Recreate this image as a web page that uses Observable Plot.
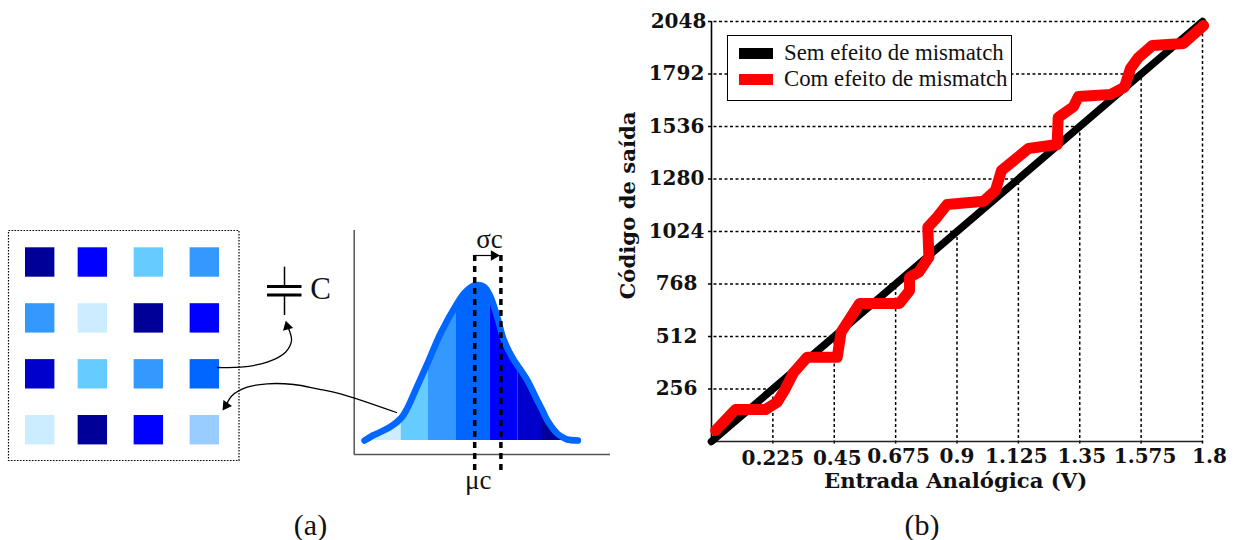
<!DOCTYPE html>
<html>
<head>
<meta charset="utf-8">
<script src="https://cdn.jsdelivr.net/npm/d3@7"></script>
<script src="https://cdn.jsdelivr.net/npm/@observablehq/plot@0.6"></script>
<style>
  html,body{margin:0;padding:0;background:#fff;}
  #page{position:relative;width:1237px;height:540px;overflow:hidden;}
  #page svg{position:absolute;overflow:visible;background:transparent;}
  #legend{position:absolute;left:727px;top:35px;width:283px;height:64px;border:1.5px solid #000;background:#fff;
    font:22.8px "Liberation Serif",serif;color:#111;}
  #legend .row{position:absolute;left:11px;height:26px;display:flex;align-items:center;white-space:nowrap;}
  #legend .sw{display:inline-block;width:34px;height:11px;margin-right:11px;}
</style>
</head>
<body>
<div id="page"><div id="legend"></div></div>
<script>
// ---------- panel (b): transfer curve ----------
const idealX = [0, 1.8];
const idealY = [0, 2048];
const mismatchX = [0.015,0.088,0.198,0.241,0.271,0.301,0.351,0.461,0.475,0.543,0.689,0.726,0.726,0.760,0.797,0.793,0.827,0.864,0.998,1.041,1.063,1.162,1.267,1.271,1.327,1.345,1.463,1.514,1.536,1.565,1.616,1.730,1.804];
const mismatchY = [54,156,156,192,258,336,411,411,533,673,673,736,801,826,899,1045,1094,1156,1172,1224,1321,1429,1448,1580,1633,1682,1692,1728,1819,1872,1931,1941,2028];
const xTicks = [0.225,0.45,0.675,0.9,1.125,1.35,1.575,1.8];
const xTickLabels = ["0.225","0.45","0.675","0.9","1.125","1.35","1.575","1.8"];
const xLabelNudge = [0,3,3,0,-2,2,4,7];
const xLabelDrop = [17,17,15,15,15,15,15,15];
const yTicks = [256,512,768,1024,1280,1536,1792,2048];
const yLabelNudge = [-35,-35,-35,-35,-35,-35,-35,-33];
const legendNames = ["Sem efeito de mismatch","Com efeito de mismatch"];
const legendColors = ["#000000","#ff0000"];

// ---------- panel (a): capacitor matrix ----------
const colPos = [0,0.94,1.94,2.94];
const rowPos = [0,1,2,3];
const matrixColors = [
  ["#000099","#0000ff","#66ccff","#3399ff"],
  ["#3399ff","#ccecff","#000099","#0000ff"],
  ["#0000cc","#66ccff","#3399ff","#0066ff"],
  ["#ccecff","#000099","#0000ff","#99ccff"]
];

// ---------- panel (a): distribution ----------
const curveX = [10.3,19.7,23,36.3,47,53,61.3,74.3,86.3,102.3,111.3,121.3,129.7,135.7,143,149.7,159.7,163.7,173,183,188.3,193,203,209.7,213,223.7];
const curveY = [0,5.5,7,13.7,22.5,32,50.3,79.5,107,136,148.7,155.3,153.7,145,123.7,100.3,80.3,74.5,60.3,40.3,30,20.3,7,2.5,1,0];
const bandEdges = [19.7,47,74.3,102.3,135.7,163.7,188.3,209.7];
const bandColors = ["#ccecff","#66ccff","#3399ff","#0066ff","#0000ff","#0000cc","#000099"];
const mu = 120.5;
const sigma = 26.2;

// annotation sketch paths (layout units of panel a)
const arrow1X = [217,240,266.7,285,291,288], arrow1Y = [367,366.7,361.7,351.7,340,328];
const arrow2X = [396,340,316.7,293.3,266.7,246.7,231.7,226], arrow2Y = [412,393.3,388.3,384,383.3,386.7,395,404];

const page = document.getElementById("page");
const serif = '"Liberation Serif",serif';
const bold = '"DejaVu Serif",serif';
function place(svg,left,top){svg.style.left=left+"px";svg.style.top=top+"px";page.insertBefore(svg,document.getElementById("legend"));}

// ---- distribution plot
const density = curveX.map((x,i)=>({x,y:curveY[i]}));
const bands = bandColors.flatMap((c,i)=>density.filter(p=>p.x>=bandEdges[i]&&p.x<=bandEdges[i+1]).map(p=>({...p,c})));
const distPlot = Plot.plot({
  width:270,height:285,marginLeft:13.7,marginRight:0,marginTop:0,marginBottom:0,
  style:{fontFamily:serif,background:"transparent"},
  x:{domain:[0,256.3],axis:null},
  y:{domain:[-14,220],range:[234,0],axis:null},
  marks:[
    Plot.areaY(bands,{x:"x",y1:0,y2:"y",fill:d=>d.c,z:"c",curve:"catmull-rom"}),
    Plot.line(density,{x:"x",y:"y",stroke:"#0066ff",strokeWidth:6.5,strokeLinecap:"round",strokeLinejoin:"round",curve:"catmull-rom"}),
    Plot.ruleX([0],{y1:-14,y2:210,stroke:"#555",strokeWidth:1.5}),
    Plot.ruleY([-14],{x1:0,x2:256.3,stroke:"#555",strokeWidth:1.5}),
    Plot.ruleX([mu,mu+sigma],{y1:185,y2:-30,stroke:"#000",strokeWidth:3.5,strokeDasharray:"6,5"}),
    Plot.ruleY([185],{x1:mu,x2:mu+sigma-6,stroke:"#000",strokeWidth:1.2}),
    Plot.dot([0],{x:mu+sigma-7,y:185,symbol:"triangle2",r:5,fill:"#000",stroke:"none",rotate:90}),
    Plot.text(["σc"],{x:135.3,y:201,fontSize:27,fill:"#111"}),
    Plot.text(["μc"],{x:124,y:-40,fontSize:27,fill:"#111"})
  ]
});
place(distPlot,340,220);

// ---- layout plot: matrix, capacitor, arrows, caption
const cells = rowPos.flatMap((r,i)=>colPos.map((c,j)=>({c,r,color:matrixColors[i][j]})));
const colStep = 56, colStart = 39.7, rowStart = 262, half = 14.7;
const cellPlot = Plot.plot({
  width:610,height:540,margin:0,
  style:{fontFamily:serif,background:"transparent"},
  x:{domain:[0,610],axis:null},
  y:{domain:[0,540],range:[0,540],axis:null},
  marks:[
    Plot.rect(cells,{x1:d=>colStart+d.c*colStep-half,x2:d=>colStart+d.c*colStep+half,y1:d=>rowStart+d.r*55.9-half,y2:d=>rowStart+d.r*55.9+half,fill:"color"}),
    Plot.rect([0],{x1:8.5,x2:239,y1:230.5,y2:460.5,fill:"none",stroke:"#000",strokeWidth:1.2,strokeDasharray:"1.6,1.4"}),
    Plot.ruleX([284],{y1:266.7,y2:285,stroke:"#000",strokeWidth:1.5}),
    Plot.ruleX([284],{y1:295,y2:315,stroke:"#000",strokeWidth:1.5}),
    Plot.ruleY([286,294.5],{x1:267,x2:301.5,stroke:"#000",strokeWidth:3}),
    Plot.text(["C"],{x:320,y:289,fontSize:31,fill:"#111"}),
    Plot.line(arrow1X.map((x,i)=>({x,y:arrow1Y[i]})),{x:"x",y:"y",stroke:"#000",strokeWidth:1.3,curve:"catmull-rom"}),
    Plot.dot([0],{x:286.8,y:326,symbol:"triangle2",r:5,fill:"#000",stroke:"none",rotate:-15}),
    Plot.line(arrow2X.map((x,i)=>({x,y:arrow2Y[i]})),{x:"x",y:"y",stroke:"#000",strokeWidth:1.3,curve:"catmull-rom"}),
    Plot.dot([0],{x:225.5,y:405,symbol:"triangle2",r:5,fill:"#000",stroke:"none",rotate:215}),
    Plot.text(["(a)"],{x:310,y:525,fontSize:30,fill:"#111"})
  ]
});
place(cellPlot,0,0);

// ---- transfer plot
const ideal = idealX.map((x,i)=>({x,y:idealY[i]}));
const mismatch = mismatchX.map((x,i)=>({x,y:mismatchY[i]}));
const txt = {fontFamily:bold,fontWeight:700,fontSize:20,fill:"#111",lineAnchor:"middle"};
const titleTxt = {...txt,fontSize:21.2};
const transfer = Plot.plot({
  width:627,height:540,marginLeft:101,marginRight:35,marginTop:21,marginBottom:99,
  style:{fontFamily:bold,background:"transparent"},
  x:{domain:[0,1.8],axis:null},
  y:{domain:[0,2048],axis:null},
  marks:[
    Plot.ruleY(yTicks,{y:d=>d,x1:-0.011,x2:d=>d*1.8/2048,stroke:"#000",strokeWidth:1.5,strokeDasharray:"3,2.5"}),
    Plot.ruleX(xTicks,{x:d=>d,y1:-12,y2:d=>d*2048/1.8,stroke:"#000",strokeWidth:1.5,strokeDasharray:"3,2.5"}),
    Plot.ruleX([0],{stroke:"#000",strokeWidth:1.6}),
    Plot.ruleY([0],{stroke:"#222",strokeWidth:1.6}),
    Plot.line(ideal,{x:"x",y:"y",stroke:"#000",strokeWidth:7.5,strokeLinecap:"round"}),
    Plot.line(mismatch,{x:"x",y:"y",stroke:"#ff0000",strokeWidth:11,strokeLinecap:"round",strokeLinejoin:"round"}),
    ...yTicks.map((t,i)=>Plot.text([String(t)],{y:[t],frameAnchor:"left",textAnchor:"middle",dx:yLabelNudge[i],...txt})),
    ...xTicks.map((t,i)=>Plot.text([xTickLabels[i]],{x:[t],frameAnchor:"bottom",dx:xLabelNudge[i],dy:xLabelDrop[i],...txt})),
    Plot.text(["Entrada Analógica (V)"],{x:[0.895],frameAnchor:"bottom",dy:40,...titleTxt}),
    Plot.text(["Código de saída"],{y:[1151],frameAnchor:"left",textAnchor:"middle",dx:-83,rotate:-90,...titleTxt}),
    Plot.text(["(b)"],{x:[0.772],frameAnchor:"bottom",dy:84,fontFamily:serif,fontSize:30,fill:"#111",lineAnchor:"middle"})
  ]
});
place(transfer,610,0);

// ---- legend
const legend = document.getElementById("legend");
legendNames.forEach((name,i)=>{
  const row = document.createElement("div");
  row.className = "row";
  row.style.top = (4+i*26)+"px";
  const sw = document.createElement("span");
  sw.className = "sw";
  sw.style.background = legendColors[i];
  row.appendChild(sw);
  row.appendChild(document.createTextNode(name));
  legend.appendChild(row);
});
</script>
</body>
</html>
